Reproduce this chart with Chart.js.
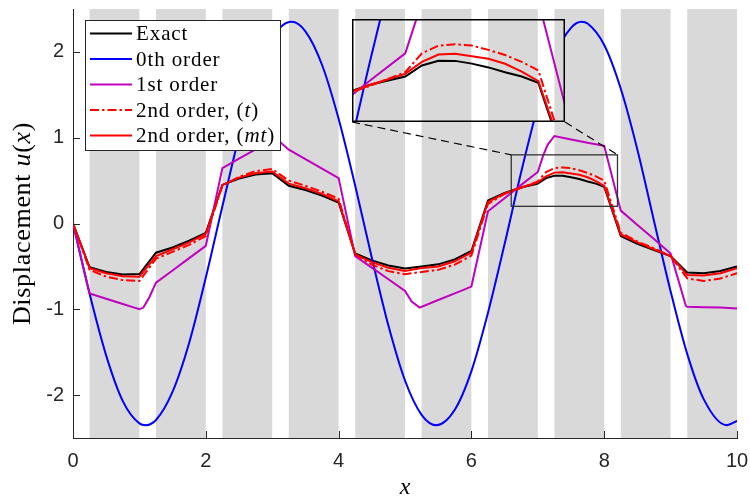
<!DOCTYPE html>
<html>
<head>
<meta charset="utf-8">
<script src="https://cdn.jsdelivr.net/npm/chart.js@4.4.1/dist/chart.umd.min.js"></script>
<style>
  html, body { margin: 0; padding: 0; background: #fff; }
  #wrap { position: relative; width: 750px; height: 498px; }
  #inset { position: absolute; }
</style>
</head>
<body>
<div id="wrap">
  <canvas id="main" width="750" height="498"></canvas>
  <canvas id="inset"></canvas>
</div>
<script>
// axes
const xTicks = [0, 2, 4, 6, 8, 10];
const yTicks = [-2, -1, 0, 1, 2];
const xRange = [0, 10];
const yRange = [-2.5, 2.5];

// shaded layers
const bandFrom = [0.25, 1.25, 2.25, 3.25, 4.25, 5.25, 6.25, 7.25, 8.25, 9.25];
const bandTo = [1, 2, 3, 4, 5, 6, 7, 8, 9, 10];

// zoomed window shown in the inset
const zoomX = [6.6, 8.2];
const zoomY = [0.2, 0.8];

const seriesNames = ['Exact', '0th order', '1st order', '2nd order, (*t*)', '2nd order, (*mt*)'];

// exact + 2nd order solutions share one x grid
const xFine = [0, 0.25, 0.5, 0.75, 1, 1.25, 1.5, 1.75, 2, 2.25, 2.5, 2.75, 3, 3.25, 3.5, 3.75, 4,
  4.25, 4.5, 4.75, 5, 5.25, 5.5, 5.75, 6, 6.25, 6.5, 6.75, 7, 7.125, 7.25, 7.375, 7.5, 7.625, 7.75, 7.875, 8,
  8.25, 8.5, 8.75, 9, 9.25, 9.5, 9.75, 10];
const exact = [0, -0.51, -0.565, -0.595, -0.59, -0.34, -0.28, -0.20, -0.11, 0.45, 0.525, 0.57, 0.585,
  0.44, 0.39, 0.325, 0.245, -0.35, -0.43, -0.49, -0.525, -0.50, -0.476, -0.418, -0.32,
  0.267, 0.356, 0.42, 0.465, 0.529, 0.557, 0.556, 0.54, 0.518, 0.49, 0.465, 0.428,
  -0.147, -0.236, -0.31, -0.38, -0.572, -0.58, -0.553, -0.50];
const secondT = [0, -0.54, -0.62, -0.66, -0.67, -0.41, -0.33, -0.25, -0.145, 0.44, 0.545, 0.61, 0.635,
  0.50, 0.44, 0.37, 0.29, -0.36, -0.48, -0.555, -0.59, -0.565, -0.54, -0.48, -0.375,
  0.23, 0.345, 0.415, 0.49, 0.60, 0.645, 0.653, 0.645, 0.62, 0.59, 0.55, 0.50,
  -0.108, -0.21, -0.29, -0.38, -0.64, -0.67, -0.64, -0.58];
const secondMT = [0, -0.52, -0.58, -0.615, -0.62, -0.38, -0.30, -0.22, -0.12, 0.45, 0.535, 0.585, 0.607,
  0.465, 0.41, 0.345, 0.26, -0.36, -0.45, -0.515, -0.553, -0.52, -0.50, -0.44, -0.34,
  0.25, 0.35, 0.42, 0.48, 0.55, 0.593, 0.597, 0.583, 0.568, 0.539, 0.494, 0.438,
  -0.128, -0.22, -0.30, -0.38, -0.60, -0.605, -0.58, -0.52];

// 0th order (smooth)
const xZeroth = [0, 0.25, 0.5, 0.75, 1, 1.1, 1.25, 1.5, 1.75, 2, 2.25, 2.5, 2.75, 3, 3.29, 3.5, 3.75, 4,
  4.25, 4.5, 4.75, 5, 5.25, 5.47, 5.75, 6, 6.25, 6.5, 6.75, 7, 7.25, 7.5, 7.66, 7.75, 8,
  8.25, 8.5, 8.75, 9, 9.25, 9.5, 9.84, 10];
const zeroth = [0, -0.82, -1.54, -2.07, -2.33, -2.35, -2.29, -1.96, -1.39, -0.63, 0.20, 1.01, 1.69, 2.16, 2.35, 2.24, 1.85, 1.22,
  0.44, -0.40, -1.19, -1.83, -2.23, -2.35, -2.17, -1.72, -1.04, -0.24, 0.60, 1.36, 1.95, 2.28, 2.35, 2.33, 2.08,
  1.57, 0.86, 0.03, -0.79, -1.52, -2.05, -2.35, -2.30];

// 1st order
const xFirst = [0, 0.25, 0.5, 0.75, 0.9, 1, 1.06, 1.15, 1.25, 1.5, 1.75, 2, 2.25, 2.5, 2.75, 3, 3.06,
  3.25, 3.5, 3.75, 4, 4.25, 4.5, 4.75, 5, 5.1, 5.22, 5.5, 5.75, 6, 6.25, 6.5, 6.75, 7, 7.08, 7.15, 7.25,
  7.5, 7.75, 8, 8.25, 8.5, 8.75, 9, 9.23, 9.25, 9.5, 9.75, 10];
const first = [0, -0.816, -0.877, -0.939, -0.975, -1.0, -0.98, -0.86, -0.69, -0.547, -0.403, -0.26, 0.646, 0.755, 0.865, 0.975, 0.99,
  0.86, 0.75, 0.64, 0.53, -0.38, -0.515, -0.65, -0.785, -0.91, -0.98, -0.892, -0.814, -0.735, 0.143, 0.295, 0.45, 0.6, 0.79, 0.92, 1.02,
  0.98, 0.94, 0.905, 0.15, -0.017, -0.18, -0.35, -0.96, -0.97, -0.975, -0.98, -0.99];

// inset placement on the page
const INSET = { left: 352, top: 19, width: 213, height: 103 };

const AXIS_COLOR = '#262626';
const BAND_COLOR = '#d9d9d9';
const SERIF = '"Liberation Serif", "Times New Roman", serif';

function makeSets() {
  const pts = (xs, ys) => xs.map((x, i) => ({ x: x, y: ys[i] }));
  return [
    { label: seriesNames[0], data: pts(xFine, exact), borderColor: '#000000', order: 4 },
    { label: seriesNames[1], data: pts(xZeroth, zeroth), borderColor: '#0000ff', cubicInterpolationMode: 'monotone', order: 3 },
    { label: seriesNames[2], data: pts(xFirst, first), borderColor: '#bf00bf', order: 2 },
    { label: seriesNames[3], data: pts(xFine, secondT), borderColor: '#ff0000', borderDash: [9, 3, 2.5, 3], order: 1 },
    { label: seriesNames[4], data: pts(xFine, secondMT), borderColor: '#ff0000', order: 0 }
  ].map(d => Object.assign({ borderWidth: 2, pointRadius: 0, fill: false, tension: 0 }, d));
}

// text with *italic* runs
function drawRich(ctx, text, x, y, size, align, spacing) {
  const parts = text.split('*').map((t, i) => ({ t: t, it: i % 2 === 1 }));
  const fontOf = p => (p.it ? 'italic ' : '') + size + 'px ' + SERIF;
  ctx.letterSpacing = (spacing || 0) + 'px';
  let w = 0;
  parts.forEach(p => { ctx.font = fontOf(p); w += ctx.measureText(p.t).width; });
  let cx = align === 'center' ? x - w / 2 : x;
  ctx.textAlign = 'left';
  parts.forEach(p => {
    ctx.font = fontOf(p);
    ctx.fillText(p.t, cx, y);
    cx += ctx.measureText(p.t).width;
  });
  ctx.letterSpacing = '0px';
}

const mainDecor = {
  id: 'mainDecor',
  beforeDraw(chart) {
    const { ctx, chartArea: a, scales: { x } } = chart;
    ctx.save();
    ctx.fillStyle = BAND_COLOR;
    bandFrom.forEach((b, i) => {
      const l = x.getPixelForValue(b), r = x.getPixelForValue(bandTo[i]);
      ctx.fillRect(l, a.top, r - l, a.bottom - a.top);
    });
    ctx.restore();
  },
  afterDatasetsDraw(chart) {
    const { ctx, chartArea: a, scales: { x, y } } = chart;
    ctx.save();

    // inward tick marks
    ctx.strokeStyle = AXIS_COLOR;
    ctx.lineWidth = 1;
    ctx.beginPath();
    xTicks.forEach(v => {
      const p = Math.round(x.getPixelForValue(v)) + 0.5;
      ctx.moveTo(p, a.bottom); ctx.lineTo(p, a.bottom - 7);
    });
    yTicks.forEach(v => {
      const p = Math.round(y.getPixelForValue(v)) + 0.5;
      ctx.moveTo(a.left, p); ctx.lineTo(a.left + 7, p);
    });
    ctx.stroke();

    // zoom window and connectors
    const zl = x.getPixelForValue(zoomX[0]), zr = x.getPixelForValue(zoomX[1]);
    const zt = y.getPixelForValue(zoomY[1]), zb = y.getPixelForValue(zoomY[0]);
    ctx.strokeStyle = '#333333';
    ctx.lineWidth = 1.3;
    ctx.strokeRect(zl, zt, zr - zl, zb - zt);
    ctx.strokeStyle = '#000000';
    ctx.lineWidth = 1.2;
    ctx.setLineDash([8, 5]);
    ctx.beginPath();
    ctx.moveTo(INSET.left, INSET.top + INSET.height); ctx.lineTo(zl, zt);
    ctx.moveTo(INSET.left + INSET.width, INSET.top + INSET.height); ctx.lineTo(zr, zt);
    ctx.stroke();
    ctx.setLineDash([]);

    // legend
    const lg = { left: 85, top: 20, width: 195, height: 130 };
    ctx.fillStyle = '#ffffff';
    ctx.fillRect(lg.left, lg.top, lg.width, lg.height);
    ctx.strokeStyle = AXIS_COLOR;
    ctx.lineWidth = 1;
    ctx.strokeRect(lg.left + 0.5, lg.top + 0.5, lg.width, lg.height);
    chart.data.datasets.forEach((ds, i) => {
      const cy = 33.5 + i * 25.5;
      ctx.strokeStyle = ds.borderColor;
      ctx.lineWidth = 2;
      ctx.setLineDash(ds.borderDash || []);
      ctx.beginPath();
      ctx.moveTo(90, cy); ctx.lineTo(132, cy);
      ctx.stroke();
      ctx.setLineDash([]);
      ctx.fillStyle = '#000000';
      ctx.textBaseline = 'alphabetic';
      drawRich(ctx, ds.label, 136, cy + 6.5, 21, 'left', 0.9);
    });

    // axis titles
    ctx.fillStyle = '#000000';
    drawRich(ctx, '*x*', (a.left + a.right) / 2, 494, 24, 'center', 0);
    ctx.translate(30, (a.top + a.bottom) / 2);
    ctx.rotate(-Math.PI / 2);
    drawRich(ctx, 'Displacement *u*(*x*)', 0, 0, 26, 'center', 0.7);
    ctx.restore();
  }
};

const tickFont = { family: '"Liberation Sans", Arial, sans-serif', size: 20 };
const noPad = s => { s.paddingLeft = 0; s.paddingRight = 0; s.paddingTop = 0; s.paddingBottom = 0; };

const mainChart = new Chart(document.getElementById('main'), {
  type: 'line',
  data: { datasets: makeSets() },
  options: {
    responsive: false,
    animation: false,
    layout: { padding: { left: 0, right: 13, top: 9, bottom: 0 } },
    plugins: { legend: { display: false }, tooltip: { enabled: false } },
    scales: {
      x: {
        type: 'linear', min: xRange[0], max: xRange[1],
        grid: { display: false, drawTicks: false },
        border: { color: AXIS_COLOR, width: 1 },
        ticks: { font: tickFont, color: AXIS_COLOR, padding: 11, maxRotation: 0, autoSkip: false },
        afterBuildTicks: s => { s.ticks = xTicks.map(v => ({ value: v })); },
        afterFit: s => { s.height = 60; noPad(s); }
      },
      y: {
        type: 'linear', min: yRange[0], max: yRange[1],
        grid: { display: false, drawTicks: false },
        border: { color: AXIS_COLOR, width: 1 },
        ticks: { font: tickFont, color: AXIS_COLOR, padding: 9 },
        afterBuildTicks: s => { s.ticks = yTicks.map(v => ({ value: v })); },
        afterFit: s => { s.width = 73; noPad(s); }
      }
    }
  },
  plugins: [mainDecor]
});

// inset: same data, zoomed scales
const insetCanvas = document.getElementById('inset');
insetCanvas.width = INSET.width;
insetCanvas.height = INSET.height;
insetCanvas.style.left = INSET.left + 'px';
insetCanvas.style.top = INSET.top + 'px';

const insetDecor = {
  id: 'insetDecor',
  beforeDraw(chart) {
    const { ctx, width, height } = chart;
    const mx = mainChart.scales.x;
    ctx.save();
    ctx.fillStyle = '#ffffff';
    ctx.fillRect(0, 0, width, height);
    ctx.fillStyle = BAND_COLOR;
    bandFrom.forEach((b, i) => {
      const l = mx.getPixelForValue(b) - INSET.left, r = mx.getPixelForValue(bandTo[i]) - INSET.left;
      ctx.fillRect(l, 0, r - l, height);
    });
    ctx.restore();
  },
  afterDraw(chart) {
    const { ctx, width, height } = chart;
    ctx.save();
    ctx.strokeStyle = '#000000';
    ctx.lineWidth = 1.5;
    ctx.strokeRect(0.75, 0.75, width - 1.5, height - 1.5);
    ctx.restore();
  }
};

new Chart(insetCanvas, {
  type: 'line',
  data: { datasets: makeSets() },
  options: {
    responsive: false,
    animation: false,
    layout: { padding: 0 },
    plugins: { legend: { display: false }, tooltip: { enabled: false } },
    scales: {
      x: { type: 'linear', display: false, min: zoomX[0], max: zoomX[1] },
      y: { type: 'linear', display: false, min: zoomY[0], max: zoomY[1] }
    }
  },
  plugins: [insetDecor]
});
</script>
</body>
</html>
